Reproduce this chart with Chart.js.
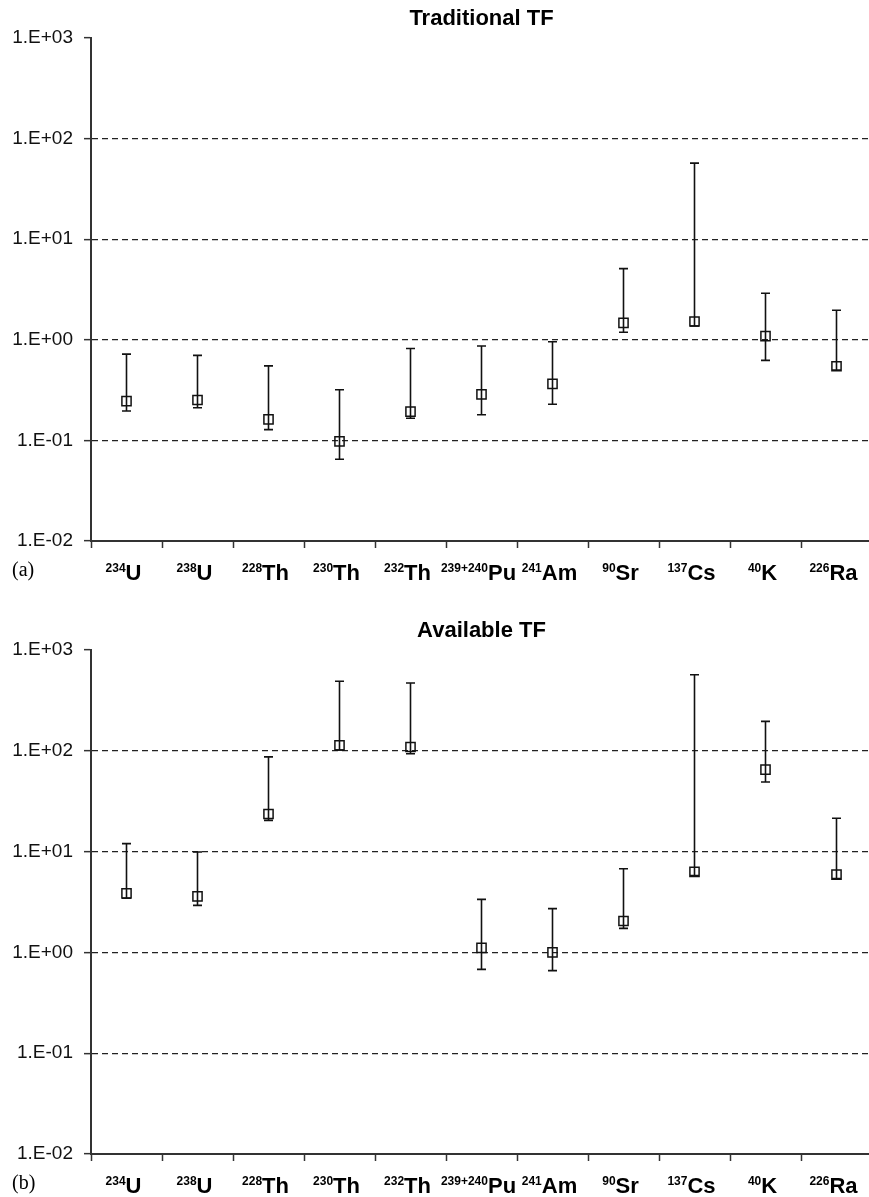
<!DOCTYPE html>
<html>
<head>
<meta charset="utf-8">
<script src="https://cdn.jsdelivr.net/npm/chart.js@4.4.1/dist/chart.umd.min.js"></script>
<style>
  body { margin: 0; background: #fff; overflow: hidden; width: 869px; height: 1197px; }
  canvas { position: absolute; left: 0; }
  #tradChart { top: 0; }
  #availChart { top: 612px; }
</style>
</head>
<body>
<canvas id="tradChart" width="880" height="598"></canvas>
<canvas id="availChart" width="880" height="585"></canvas>
<script>
// isotopes: mass number (superscript) + element symbol
const massNumbers = ["234", "238", "228", "230", "232", "239+240", "241", "90", "137", "40", "226"];
const elements = ["U", "U", "Th", "Th", "Th", "Pu", "Am", "Sr", "Cs", "K", "Ra"];

const yTicks = [0.01, 0.1, 1, 10, 100, 1000];
const yTickLabels = ["1.E-02", "1.E-01", "1.E+00", "1.E+01", "1.E+02", "1.E+03"];

// (a) Traditional TF
const tradMean = [0.246, 0.252, 0.162, 0.098, 0.193, 0.287, 0.364, 1.47, 1.52, 1.09, 0.546];
const tradLow = [0.196, 0.211, 0.128, 0.065, 0.166, 0.18, 0.229, 1.19, 1.37, 0.625, 0.50];
const tradHigh = [0.72, 0.70, 0.55, 0.319, 0.82, 0.867, 0.957, 5.1, 57, 2.9, 1.97];

// (b) Available TF
const availMean = [3.85, 3.6, 23.6, 113, 109, 1.11, 1.0, 2.05, 6.3, 65, 5.9];
const availLow = [3.45, 2.93, 20.4, 102, 93.6, 0.678, 0.66, 1.73, 5.8, 49, 5.4];
const availHigh = [12.0, 9.9, 87, 489, 471, 3.36, 2.72, 6.77, 569, 196, 21.4];

const categories = massNumbers.map((m, i) => m + elements[i]);
const axisColor = "#333";

// vertical error bars with caps, drawn through the chart scales
const errorBars = {
  id: "errorBars",
  beforeDatasetsDraw(chart, args, opts) {
    const ctx = chart.ctx;
    const x = chart.scales.x, y = chart.scales.y;
    ctx.save();
    ctx.strokeStyle = "#111";
    ctx.lineWidth = 1.6;
    opts.low.forEach((lo, i) => {
      const px = x.getPixelForValue(i);
      const yl = y.getPixelForValue(lo);
      const yh = y.getPixelForValue(opts.high[i]);
      ctx.beginPath();
      ctx.moveTo(px, yl); ctx.lineTo(px, yh);
      ctx.moveTo(px - 4.5, yl); ctx.lineTo(px + 4.5, yl);
      ctx.moveTo(px - 4.5, yh); ctx.lineTo(px + 4.5, yh);
      ctx.stroke();
    });
    ctx.restore();
  }
};

// title, panel letter and isotope labels with superscript mass numbers
const decorations = {
  id: "decorations",
  afterDraw(chart, args, opts) {
    const ctx = chart.ctx;
    const area = chart.chartArea;
    const x = chart.scales.x;
    ctx.save();
    ctx.fillStyle = "#000";
    ctx.textBaseline = "alphabetic";

    ctx.textAlign = "center";
    ctx.font = "bold 22px 'Liberation Sans', Arial, sans-serif";
    ctx.fillText(opts.title, (area.left + area.right) / 2, 25);

    ctx.textAlign = "left";
    ctx.font = "20px 'Liberation Serif', 'Times New Roman', serif";
    ctx.fillText(opts.panel, 12, area.bottom + 35);

    const base = area.bottom + 39;
    massNumbers.forEach((m, i) => {
      ctx.font = "bold 12px 'Liberation Sans', Arial, sans-serif";
      const w1 = ctx.measureText(m).width;
      ctx.font = "bold 22px 'Liberation Sans', Arial, sans-serif";
      const w2 = ctx.measureText(elements[i]).width;
      const start = x.getPixelForValue(i) - 3 - (w1 + w2) / 2;
      ctx.fillText(elements[i], start + w1, base);
      ctx.font = "bold 12px 'Liberation Sans', Arial, sans-serif";
      ctx.fillText(m, start, base - 8);
    });
    ctx.restore();
  }
};

function makeChart(id, mean, low, high, title, panel, xHeight) {
  return new Chart(document.getElementById(id), {
    type: "line",
    data: {
      labels: categories,
      datasets: [{
        data: mean,
        showLine: false,
        pointStyle: "rect",
        pointRadius: 6.5,
        pointBorderWidth: 1.5,
        pointBorderColor: "#111",
        pointBackgroundColor: "rgba(0,0,0,0)"
      }]
    },
    options: {
      responsive: false,
      animation: false,
      devicePixelRatio: 1,
      layout: { padding: { top: 38, right: 4, left: 0, bottom: 0 } },
      plugins: {
        legend: { display: false },
        tooltip: { enabled: false },
        errorBars: { low: low, high: high },
        decorations: { title: title, panel: panel }
      },
      scales: {
        x: {
          type: "category",
          offset: true,
          afterFit: (s) => { s.height = xHeight; },
          grid: {
            offset: true,
            drawOnChartArea: false,
            drawTicks: true,
            tickLength: 7,
            tickColor: axisColor,
            tickWidth: 1.5,
            color: axisColor
          },
          border: { color: axisColor, width: 2 },
          ticks: { display: false }
        },
        y: {
          type: "logarithmic",
          min: 0.01,
          max: 1000,
          afterFit: (s) => { s.width = 91; },
          afterBuildTicks: (s) => { s.ticks = yTicks.map((v) => ({ value: v })); },
          grid: {
            color: (c) => (c.tick && (c.tick.value === 1000 || c.tick.value === 0.01)) ? "rgba(0,0,0,0)" : "#222",
            lineWidth: 1.3,
            drawTicks: true,
            tickLength: 7,
            tickColor: axisColor,
            tickWidth: 1.5
          },
          border: { color: axisColor, width: 2, dash: [6, 4] },
          ticks: {
            padding: 11,
            color: "#111",
            font: { family: "'Liberation Sans', Arial, sans-serif", size: 19 },
            callback: (v) => yTickLabels[yTicks.indexOf(v)]
          }
        }
      }
    },
    plugins: [errorBars, decorations]
  });
}

makeChart("tradChart", tradMean, tradLow, tradHigh, "Traditional TF", "(a)", 57);
makeChart("availChart", availMean, availLow, availHigh, "Available TF", "(b)", 43);
</script>
</body>
</html>
